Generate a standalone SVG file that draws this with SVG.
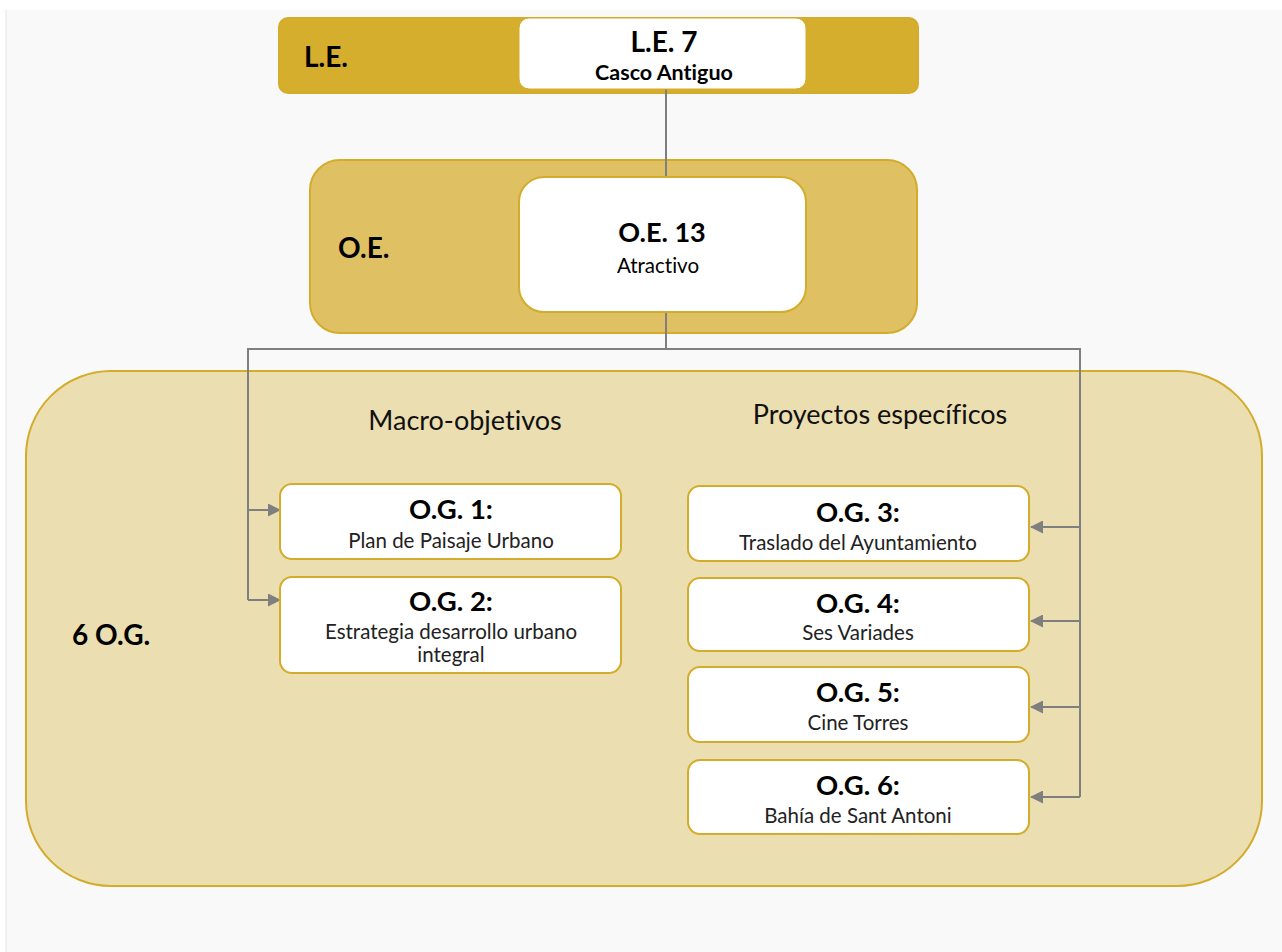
<svg xmlns="http://www.w3.org/2000/svg" width="1282" height="952" viewBox="0 0 1282 952">
<defs>
<marker id="arr" markerWidth="13" markerHeight="13" refX="12" refY="6.5" orient="auto" markerUnits="userSpaceOnUse">
<path d="M0,0 L13,6.5 L0,13 Z" fill="#7f7f7f"/>
</marker>
<style>
text{font-family:Lato,"Open Sans","Liberation Sans",sans-serif;fill:#000;text-anchor:middle;font-variant-ligatures:none}
.band{stroke:#d4ac2b;stroke-width:2}
.box{fill:#fff;stroke:#d4ac2b;stroke-width:2}
.h{font-weight:bold;font-size:27.5px}
.s{font-size:20.5px;fill:#222}
.lbl{font-weight:bold;font-size:28px;text-anchor:start}
.sec{font-size:27px;fill:#111}
.con{fill:none;stroke:#7f7f7f;stroke-width:2}
</style>
</defs>
<rect x="0" y="0" width="1282" height="952" fill="#fff"/>
<rect x="6" y="10" width="1276" height="942" fill="#f9f9f9"/>
<line x1="6" y1="10" x2="6" y2="952" stroke="#ececec" stroke-width="1.5"/>

<g id="band-le">
<rect class="band" x="279" y="18" width="639" height="75" rx="9" fill="#d6ae2e"/>
<text class="lbl" x="304" y="67" font-size="26">L.E.</text>
</g>
<g id="band-oe">
<rect class="band" x="310" y="160" width="607" height="173" rx="30" fill="#dfc063"/>
<text class="lbl" x="338" y="258" font-size="29">O.E.</text>
</g>
<g id="band-og">
<rect class="band" x="26" y="371" width="1236" height="515" rx="85" fill="#ebdeb1"/>
<text class="lbl" x="72" y="645">6 O.G.</text>
<text class="sec" x="465" y="430">Macro-objetivos</text>
<text class="sec" x="880" y="424">Proyectos específicos</text>
</g>

<g id="connectors">
<line class="con" x1="666" y1="89" x2="666" y2="177"/>
<polyline class="con" points="666,312 666,349"/>
<polyline class="con" points="248,600 248,349 1080,349 1080,797"/>
<line class="con" x1="248" y1="510" x2="280" y2="510" marker-end="url(#arr)"/>
<line class="con" x1="248" y1="600" x2="280" y2="600" marker-end="url(#arr)"/>
<line class="con" x1="1080" y1="527" x2="1031" y2="527" marker-end="url(#arr)"/>
<line class="con" x1="1080" y1="621" x2="1031" y2="621" marker-end="url(#arr)"/>
<line class="con" x1="1080" y1="707" x2="1031" y2="707" marker-end="url(#arr)"/>
<line class="con" x1="1080" y1="797" x2="1031" y2="797" marker-end="url(#arr)"/>
</g>

<g id="le7">
<rect x="519" y="18" width="287" height="71" rx="10" fill="#fff" stroke="#d4ac2b" stroke-width="1"/>
<text x="664" y="52" font-size="28" font-weight="bold">L.E. 7</text>
<text x="664" y="80" font-size="21.5" font-weight="bold">Casco Antiguo</text>
</g>
<g id="oe13">
<rect class="box" x="519" y="177" width="287" height="135" rx="25"/>
<text x="662" y="242" font-size="27" font-weight="bold">O.E. 13</text>
<text x="658" y="273" font-size="20.5" fill="#222">Atractivo</text>
</g>
<g id="og1">
<rect class="box" x="280" y="484" width="341" height="75" rx="12"/>
<text class="h" x="451" y="519">O.G. 1:</text>
<text class="s" x="451" y="548">Plan de Paisaje Urbano</text>
</g>
<g id="og2">
<rect class="box" x="280" y="577" width="341" height="96" rx="12"/>
<text class="h" x="451" y="611">O.G. 2:</text>
<text class="s" x="451" y="639">Estrategia desarrollo urbano</text>
<text class="s" x="451" y="662">integral</text>
</g>
<g id="og3">
<rect class="box" x="688" y="486" width="341" height="75" rx="12"/>
<text class="h" x="858" y="522">O.G. 3:</text>
<text class="s" x="858" y="550">Traslado del Ayuntamiento</text>
</g>
<g id="og4">
<rect class="box" x="688" y="578" width="341" height="73" rx="12"/>
<text class="h" x="858" y="613">O.G. 4:</text>
<text class="s" x="858" y="640">Ses Variades</text>
</g>
<g id="og5">
<rect class="box" x="688" y="667" width="341" height="75" rx="12"/>
<text class="h" x="858" y="702">O.G. 5:</text>
<text class="s" x="858" y="730">Cine Torres</text>
</g>
<g id="og6">
<rect class="box" x="688" y="760" width="341" height="74" rx="12"/>
<text class="h" x="858" y="795">O.G. 6:</text>
<text class="s" x="858" y="823">Bahía de Sant Antoni</text>
</g>
</svg>
